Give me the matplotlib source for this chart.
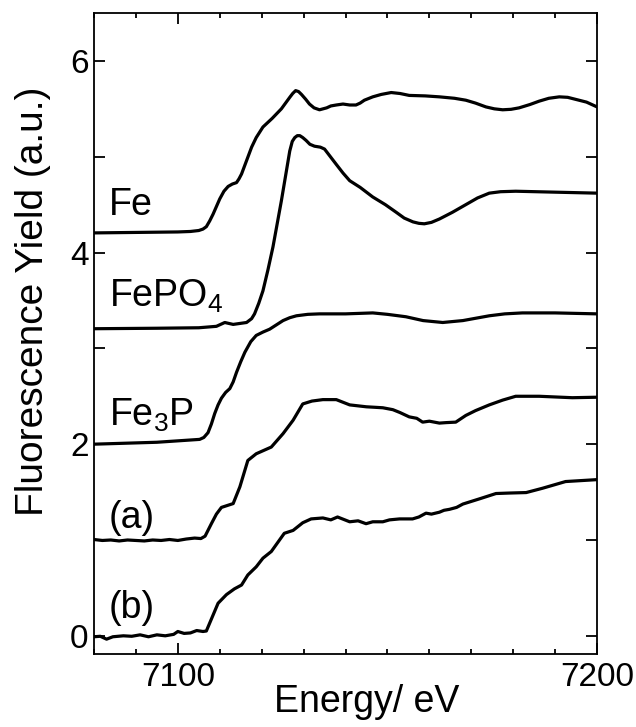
import numpy as np
import matplotlib
matplotlib.use("Agg")
import matplotlib.pyplot as plt
from matplotlib.ticker import MultipleLocator

plt.rcParams['font.family'] = ['Liberation Sans', 'DejaVu Sans']
plt.rcParams['mathtext.fontset'] = 'custom'
plt.rcParams['mathtext.rm'] = 'Liberation Sans'
plt.rcParams['mathtext.it'] = 'Liberation Sans:italic'

# spectra (energy in eV, offset fluorescence yield)
fe_e = [7080, 7090, 7100, 7103, 7105, 7106, 7106.8, 7107.6, 7108.4, 7109.2,
        7110, 7111, 7112, 7113, 7114, 7114.6, 7115.2, 7116.4, 7117.6, 7118.7,
        7120.3, 7122.5, 7124.7, 7126.7, 7127.4, 7128.1, 7128.8, 7129.5, 7130.5,
        7131.4, 7132.5, 7133.8, 7135.5, 7136.5, 7137.8, 7139.4, 7141, 7142.5,
        7143.5, 7144.5, 7146.5, 7148.5, 7150.9, 7153, 7155.2, 7159, 7162.4,
        7166, 7168.7, 7171, 7173.5, 7175.5, 7177.5, 7179.5, 7181.4, 7184,
        7186.2, 7188.5, 7191, 7193, 7194.8, 7197.5, 7200]
fe_y = [4.205, 4.21, 4.215, 4.22, 4.23, 4.245, 4.27, 4.33, 4.40, 4.48,
        4.56, 4.64, 4.69, 4.715, 4.73, 4.77, 4.82, 4.96, 5.10, 5.20,
        5.31, 5.40, 5.50, 5.62, 5.66, 5.69, 5.68, 5.65, 5.60,
        5.55, 5.51, 5.49, 5.51, 5.53, 5.54, 5.55, 5.54, 5.54,
        5.56, 5.59, 5.625, 5.65, 5.67, 5.66, 5.64, 5.635, 5.625,
        5.61, 5.59, 5.56, 5.52, 5.50, 5.49, 5.495, 5.51, 5.545,
        5.58, 5.61, 5.625, 5.62, 5.60, 5.57, 5.52]

fepo4_e = [7080, 7095, 7105, 7109.2, 7111.2, 7113.2, 7116.4, 7117.6, 7118.3,
           7119.3, 7120.3, 7121.5, 7122.7, 7123.7, 7124.7, 7125.7, 7126.7,
           7127.3, 7127.9, 7128.5, 7129.1, 7129.8, 7130.6, 7131.5, 7132.6,
           7134, 7135, 7136.4, 7137.8, 7139.4, 7141, 7143.5, 7146.5, 7149.5,
           7152.1, 7154, 7156.1, 7157.5, 7158.8, 7160.5, 7162.4, 7165.5,
           7168.7, 7171.5, 7174.3, 7177, 7180.6, 7190.2, 7200]
fepo4_y = [3.205, 3.21, 3.215, 3.23, 3.27, 3.25, 3.27, 3.31, 3.36,
           3.47, 3.60, 3.82, 4.06, 4.30, 4.54, 4.80, 5.06,
           5.16, 5.20, 5.22, 5.22, 5.20, 5.17, 5.13, 5.11,
           5.10, 5.08, 5.00, 4.92, 4.83, 4.75, 4.68, 4.58, 4.50,
           4.42, 4.36, 4.32, 4.305, 4.30, 4.315, 4.35, 4.42,
           4.50, 4.57, 4.62, 4.635, 4.64, 4.63, 4.62]

fe3p_e = [7080, 7095, 7105.2, 7106.2, 7107.2, 7108, 7108.8, 7109.6, 7110.4,
          7111.4, 7112.4, 7113.2, 7114, 7115, 7116, 7117.4, 7118.7, 7120.3,
          7121.9, 7123.5, 7125.1, 7126.7, 7128.3, 7131, 7133.8, 7140, 7146.5,
          7150, 7154.4, 7158.5, 7163.2, 7168, 7174.3, 7178, 7182.2, 7190, 7200]
fe3p_y = [2.0, 2.02, 2.05, 2.07, 2.12, 2.21, 2.32, 2.41, 2.48,
          2.54, 2.58, 2.65, 2.75, 2.86, 2.96, 3.07, 3.135, 3.17,
          3.20, 3.245, 3.29, 3.32, 3.34, 3.355, 3.36, 3.36, 3.37,
          3.355, 3.33, 3.29, 3.27, 3.29, 3.34, 3.36, 3.37, 3.37, 3.36]

a_e = [7080, 7082, 7084, 7086, 7088, 7090, 7092, 7094, 7096, 7098, 7100, 7102,
       7104, 7105.5, 7106.5, 7108, 7109.2, 7110.4, 7113.2, 7114.8, 7116.7,
       7118.7, 7122.3, 7125.1, 7127.5, 7129.8, 7132, 7134.6, 7137.8, 7141,
       7143, 7145, 7147, 7148.9, 7151.3, 7153, 7155.2, 7157, 7158.4, 7160,
       7162.4, 7164, 7166.3, 7168.7, 7171, 7174.3, 7177.5, 7180.6, 7186.2,
       7194.1, 7200]
a_y = [1.005, 0.995, 1.0, 0.99, 1.0, 0.995, 0.99, 1.0, 0.995, 1.005, 0.995, 1.01,
       1.02, 1.015, 1.04, 1.17, 1.27, 1.34, 1.38, 1.555, 1.83,
       1.90, 1.97, 2.11, 2.25, 2.42, 2.45, 2.465, 2.465, 2.41,
       2.40, 2.39, 2.385, 2.38, 2.36, 2.33, 2.285, 2.27, 2.23, 2.24,
       2.22, 2.225, 2.23, 2.30, 2.35, 2.41, 2.46, 2.50, 2.50,
       2.485, 2.49]

b_e = [7080, 7081.5, 7083, 7084.5, 7087, 7089, 7091, 7093, 7095, 7097, 7099,
       7100, 7101.5, 7103, 7104.5, 7106, 7106.8, 7109.6, 7111.6, 7113.5,
       7115.2, 7116.7, 7118.7, 7120.3, 7122.3, 7125.4, 7127.5, 7129.8, 7131.8,
       7134.6, 7136.5, 7138.1, 7141, 7143, 7144.9, 7146.5, 7148.9, 7150.5,
       7152.9, 7156, 7157.5, 7159.2, 7160.5, 7162.4, 7163.5, 7164.8, 7166.5,
       7168, 7172, 7175.9, 7179.1, 7183.1, 7187, 7192.5, 7200]
b_y = [-0.01, -0.005, -0.035, -0.01, 0.0, -0.005, 0.01, -0.01, 0.01, 0.0, 0.015,
       0.045, 0.025, 0.03, 0.055, 0.045, 0.05, 0.34, 0.43, 0.49,
       0.53, 0.635, 0.72, 0.81, 0.88, 1.07, 1.10, 1.18, 1.22,
       1.23, 1.21, 1.24, 1.19, 1.20, 1.17, 1.19, 1.19, 1.21,
       1.22, 1.22, 1.24, 1.28, 1.27, 1.29, 1.31, 1.32, 1.34,
       1.375, 1.43, 1.485, 1.49, 1.495, 1.54, 1.61, 1.63]

labels = ['Fe', r'$\mathregular{FePO_4}$', r'$\mathregular{Fe_3P}$', '(a)', '(b)']
label_y = [4.39, 3.43, 2.19, 1.12, 0.19]

fig = plt.figure(figsize=(6.36, 7.27), dpi=100)
ax = fig.add_axes([0.1478, 0.1004, 0.7909, 0.8817])

for e, y in [(fe_e, fe_y), (fepo4_e, fepo4_y), (fe3p_e, fe3p_y), (a_e, a_y), (b_e, b_y)]:
    ax.plot(e, y, color='black', lw=2.3, solid_joinstyle='round')

for lab, ly in zip(labels, label_y):
    ax.text(7083.5, ly, lab, fontsize=27, ha='left', va='baseline')

ax.set_xlim(7080, 7200)
ax.set_ylim(-0.19, 6.5)
ax.xaxis.set_major_locator(MultipleLocator(100))
ax.xaxis.set_minor_locator(MultipleLocator(10))
ax.yaxis.set_major_locator(MultipleLocator(2))
ax.yaxis.set_minor_locator(MultipleLocator(1))
ax.tick_params(which='both', direction='in', top=True, right=True, width=1.3,
               labelsize=24)
ax.tick_params(axis='x', which='major', length=8, pad=6)
ax.tick_params(axis='x', which='minor', length=3.5)
ax.tick_params(axis='y', which='both', length=8, pad=4)
for sp in ax.spines.values():
    sp.set_linewidth(1.3)

ax.set_xlabel('Energy/ eV', fontsize=27)
ax.set_ylabel('Fluorescence Yield (a.u.)', fontsize=28)
ax.xaxis.set_label_coords(0.543, -0.047)
ax.yaxis.set_label_coords(-0.086, 0.55)

fig.savefig('out.png', dpi=100)
